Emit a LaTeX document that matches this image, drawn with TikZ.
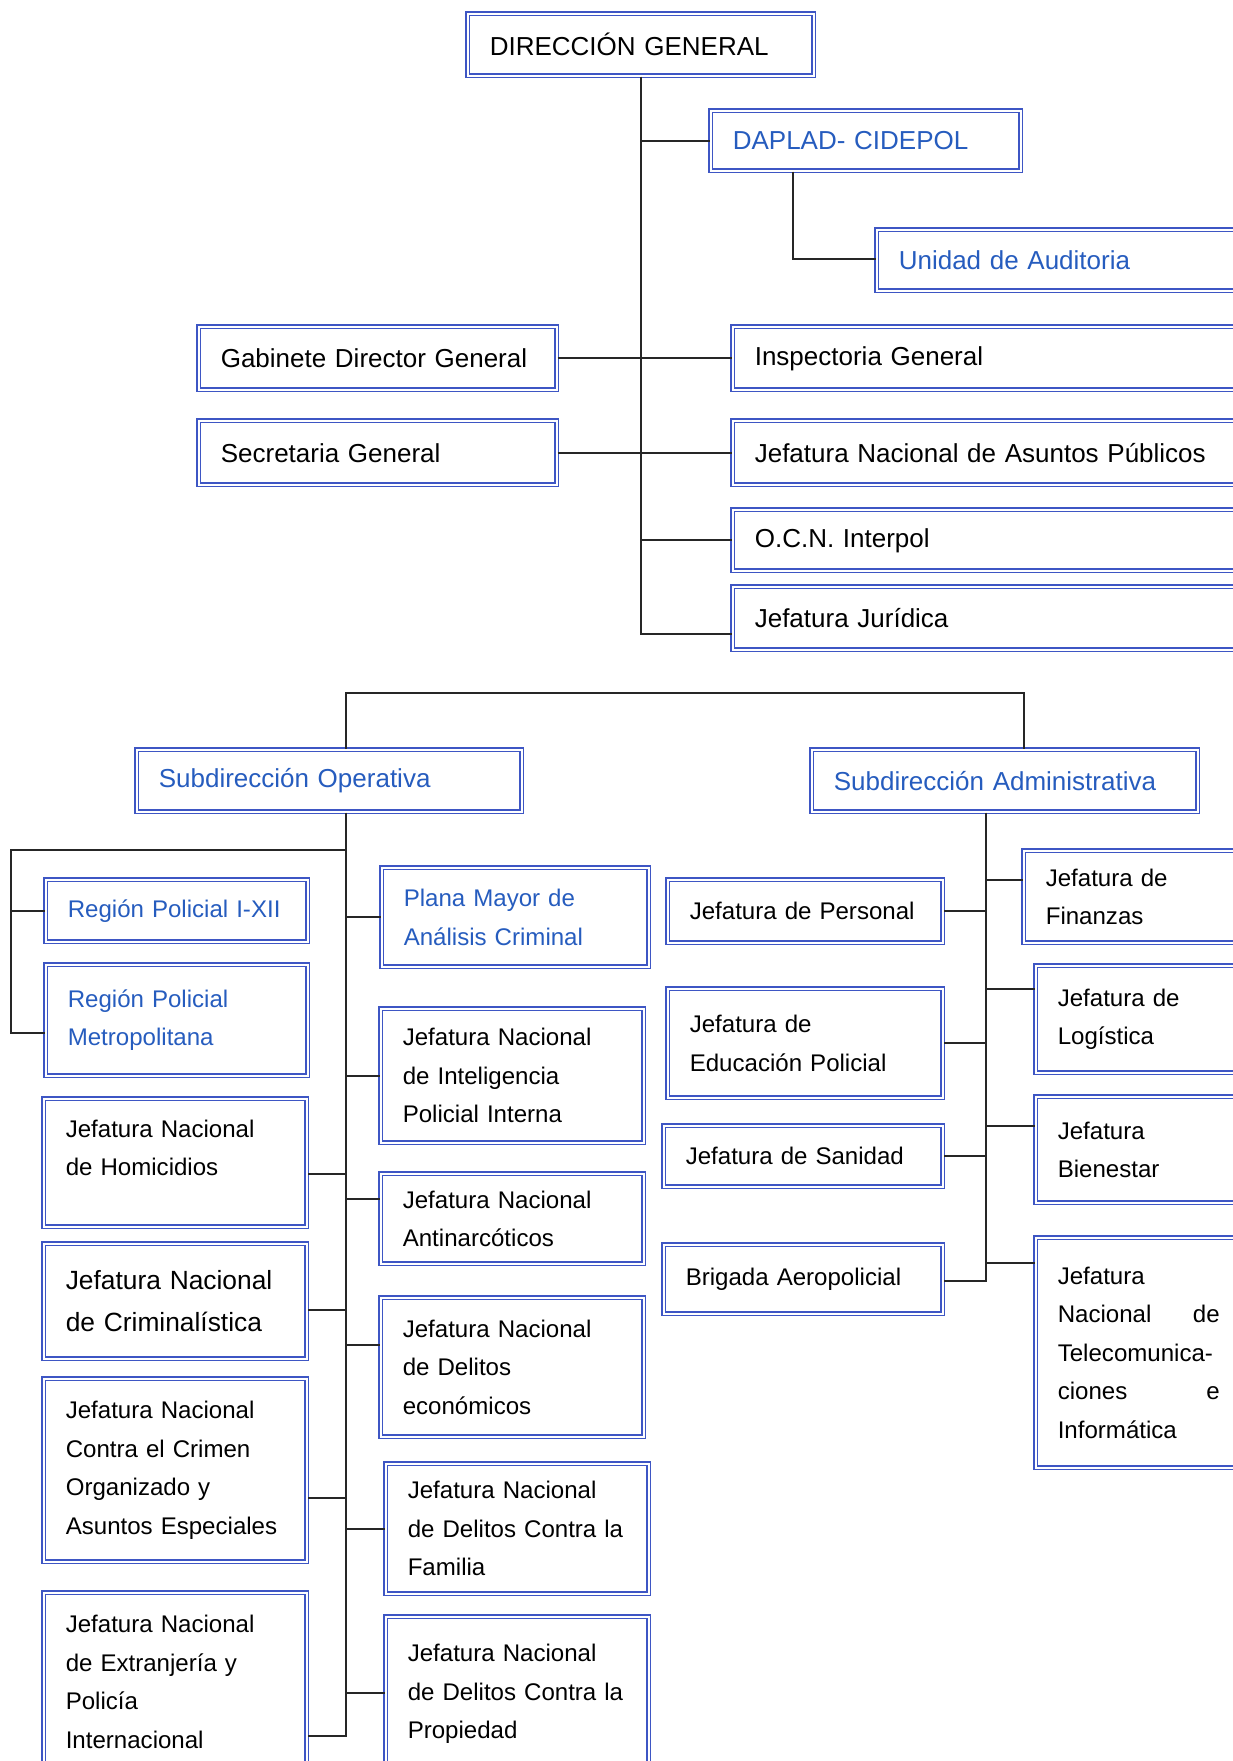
\documentclass[tikz,border=0pt]{standalone}
\usepackage{fontspec}
\setmainfont{Liberation Sans}
\definecolor{marco}{RGB}{62,86,196}
\definecolor{azul}{RGB}{38,92,190}
\tikzset{
  caja/.style = {anchor=north west, align=left, inner xsep=0.44cm, inner ysep=0pt,
    draw=marco, double=white, double distance=1.1pt, line width=0.9pt,
    execute at begin node={\hyphenpenalty=10000\relax},
    font=\fontsize{13.7}{21.9}\selectfont},
  caja_g/.style = {caja, font=\fontsize{14.8}{22}\selectfont},
  caja_az/.style = {caja, text=azul},
  caja_gaz/.style = {caja_g, text=azul},
  linea/.style = {line width=1pt, black!85},
}
\newcommand{\estira}{\hskip 0pt plus 1filll\relax}

\begin{document}
\begin{tikzpicture}[x=0.02cm, y=-0.02cm]
  \useasboundingbox (0,0) rectangle (1233,1761);

  % direccion general
  \node [caja_g, text width=6.04cm, minimum height=1.24cm] (dg) at (467,13) {DIRECCIÓN GENERAL};
  \node [caja_gaz, text width=5.32cm, minimum height=1.2cm] (daplad) at (710,110) {DAPLAD- CIDEPOL};
  \node [caja_gaz, text width=6.6cm, minimum height=1.22cm] (unidad) at (876,229) {Unidad de Auditoria};
  \node [caja_g, text width=6.28cm, minimum height=1.26cm] (gab) at (198,326) {Gabinete Director General};
  \node [caja_g, text width=9.48cm, minimum height=1.26cm] (insp) at (732,326) {Inspectoria General};
  \node [caja_g, text width=6.28cm, minimum height=1.28cm] (secr) at (198,420) {Secretaria General};
  \node [caja_g, text width=9.48cm, minimum height=1.28cm] (jnap) at (732,420) {Jefatura Nacional de Asuntos Públicos};
  \node [caja_g, text width=9.48cm, minimum height=1.22cm] (ocn) at (732,509) {O.C.N. Interpol};
  \node [caja_g, text width=9.48cm, minimum height=1.26cm] (juri) at (732,586) {Jefatura Jurídica};

  \coordinate (dap) at (793,259);
  \coordinate (jur) at (0,634);
  \draw [linea] (dg.south) -- (dg.south |- jur) -- (jur -| juri.west);
  \draw [linea] (dg.south |- daplad.west) -- (daplad.west);
  \draw [linea] (dap |- daplad.south) -- (dap) -- (dap -| unidad.west);
  \draw [linea] (gab.east) -- (insp.west);
  \draw [linea] (secr.east) -- (jnap.west);
  \draw [linea] (dg.south |- ocn.west) -- (ocn.west);

  % subdirecciones
  \node [caja_gaz, text width=6.82cm, minimum height=1.24cm] (subop) at (136,749) {Subdirección Operativa};
  \node [caja_gaz, text width=6.84cm, minimum height=1.24cm] (subad) at (811,749) {Subdirección Administrativa};

  \coordinate (barl) at (346,693);
  \coordinate (barr) at (1024,693);
  \draw [linea] (barl |- subop.north) -- (barl) -- (barr) -- (barr |- subad.north);

  % operativa
  \node [caja_az, text width=4.36cm, minimum height=1.24cm] (reg1) at (45,879) {Región Policial I-XII};
  \node [caja_az, text width=4.36cm, minimum height=2.22cm] (regm) at (45,964) {Región Policial\\Metropolitana};
  \node [caja_az, text width=4.46cm, minimum height=1.98cm] (plana) at (381,867) {Plana Mayor de\\Análisis Criminal};
  \node [caja, text width=4.38cm, minimum height=2.68cm] (intel) at (380,1008) {Jefatura Nacional\\de Inteligencia\\Policial Interna};
  \node [caja, text width=4.38cm, minimum height=2.56cm, text depth=1.36cm] (hom) at (43,1098) {Jefatura Nacional\\de Homicidios};
  \node [caja, text width=4.38cm, minimum height=1.8cm] (ant) at (380,1173) {Jefatura Nacional\\Antinarcóticos};
  \node [caja, font=\fontsize{15}{23.6}\selectfont, text width=4.38cm, minimum height=2.3cm] (crim) at (43,1243) {Jefatura Nacional\\de Criminalística};
  \node [caja, text width=4.38cm, minimum height=2.78cm] (econ) at (380,1297) {Jefatura Nacional\\de Delitos\\económicos};
  \node [caja, text width=4.38cm, minimum height=3.66cm] (corg) at (43,1378) {Jefatura Nacional\\Contra el Crimen\\Organizado y\\Asuntos Especiales};
  \node [caja, text width=4.38cm, minimum height=2.6cm] (fam) at (385,1463) {Jefatura Nacional\\de Delitos Contra la\\Familia};
  \node [caja, text width=4.38cm, minimum height=3.56cm] (ext) at (43,1592) {Jefatura Nacional\\de Extranjería y\\Policía\\Internacional};
  \node [caja, text width=4.38cm, minimum height=3.08cm] (prop) at (385,1616) {Jefatura Nacional\\de Delitos Contra la\\Propiedad};

  \coordinate (rg) at (11,850);
  \coordinate (rgb) at (11,1033);
  \coordinate (o1) at (346,1174);
  \coordinate (o2) at (346,1199);
  \coordinate (o3) at (346,1310);
  \coordinate (o4) at (346,1345);
  \coordinate (o5) at (346,1498);
  \coordinate (o6) at (346,1693);
  \coordinate (opb) at (346,1736);
  \draw [linea] (barl |- subop.south) -- (opb) -- (opb -| ext.east);
  \draw [linea] (rg -| barl) -- (rg) -- (rgb) -- (rgb -| regm.west);
  \draw [linea] (rg |- reg1.west) -- (reg1.west);
  \draw [linea] (barl |- plana.west) -- (plana.west);
  \draw [linea] (barl |- intel.west) -- (intel.west);
  \draw [linea] (o1) -- (o1 -| hom.east);
  \draw [linea] (o2) -- (o2 -| ant.west);
  \draw [linea] (o3) -- (o3 -| crim.east);
  \draw [linea] (o4) -- (o4 -| econ.west);
  \draw [linea] (o5) -- (o5 -| corg.east);
  \draw [linea] (barl |- fam.west) -- (fam.west);
  \draw [linea] (o6) -- (o6 -| prop.west);

  % administrativa
  \node [caja, text width=3.66cm, minimum height=1.84cm] (fin) at (1023,850) {Jefatura de\\Finanzas};
  \node [caja, text width=4.62cm, minimum height=1.26cm] (pers) at (667,879) {Jefatura de Personal};
  \node [caja, text width=3.42cm, minimum height=2.14cm] (log) at (1035,965) {Jefatura de\\Logística};
  \node [caja, text width=4.62cm, minimum height=2.18cm] (edu) at (667,988) {Jefatura de\\Educación Policial};
  \node [caja, text width=3.42cm, minimum height=2.12cm] (bien) at (1035,1096) {Jefatura\\Bienestar};
  \node [caja, text width=4.7cm, minimum height=1.22cm] (san) at (663,1125) {Jefatura de Sanidad};
  \node [caja, text width=4.7cm, minimum height=1.38cm] (brig) at (663,1244) {Brigada Aeropolicial};
  \node [caja, text width=3.24cm, minimum height=4.6cm] (tel) at (1035,1237) {Jefatura\\Nacional\estira de\\Telecomunica-\\ciones\estira e\\Informática};

  \coordinate (a1) at (986,880);
  \coordinate (a2) at (986,989);
  \coordinate (a3) at (986,1126);
  \coordinate (a4) at (986,1263);
  \coordinate (adb) at (986,1281);
  \draw [linea] (adb |- subad.south) -- (adb) -- (adb -| brig.east);
  \draw [linea] (a1) -- (a1 -| fin.west);
  \draw [linea] (adb |- pers.east) -- (pers.east);
  \draw [linea] (a2) -- (a2 -| log.west);
  \draw [linea] (adb |- edu.east) -- (edu.east);
  \draw [linea] (a3) -- (a3 -| bien.west);
  \draw [linea] (adb |- san.east) -- (san.east);
  \draw [linea] (a4) -- (a4 -| tel.west);
\end{tikzpicture}
\end{document}
